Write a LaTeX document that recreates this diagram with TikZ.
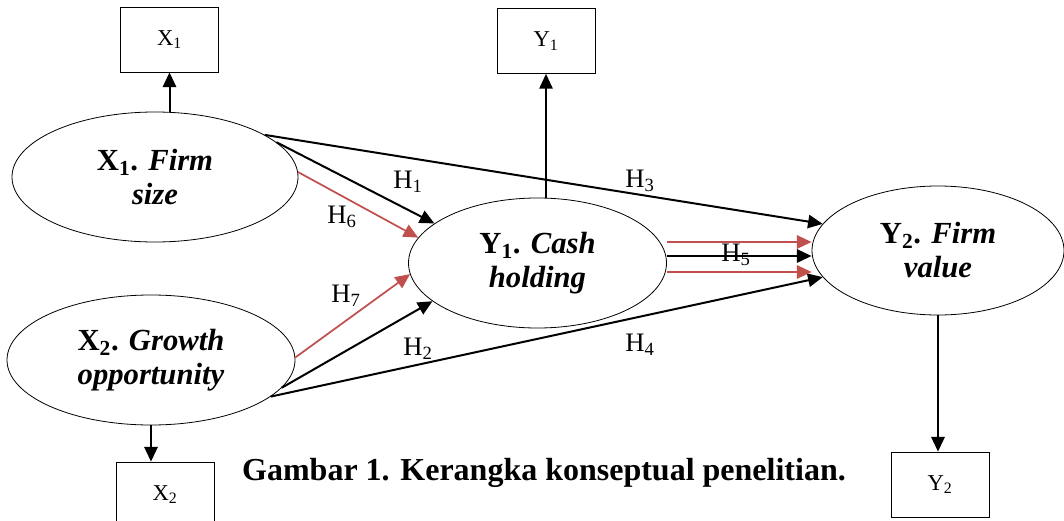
\documentclass[tikz,border=0pt]{standalone}
\usepackage{fontspec}
\setmainfont{Liberation Serif}[BoldItalicFont={Liberation Serif Bold Italic}]
\usetikzlibrary{shapes.geometric, arrows.meta}
\definecolor{hipred}{RGB}{192,80,77}

\begin{document}
\begin{tikzpicture}[
          x=0.75pt, y=-0.75pt,
          latent/.style={draw, ellipse, inner sep=0pt, align=center, line width=0.6pt,
                         font=\fontsize{23}{25.5}\selectfont\bfseries,
                         execute at begin node=\rule{0pt}{21pt}},
          indicator/.style={draw, rectangle, minimum width=73.5pt, minimum height=48.75pt,
                            inner sep=0pt, line width=0.6pt, font=\fontsize{17}{19}\selectfont},
          hlabel/.style={inner sep=0pt, font=\fontsize{20}{22}\selectfont},
          redpath/.style={draw=hipred, line width=1.3pt},
          >={Triangle[length=11pt, width=10pt]},
          line width=1.5pt
        ]
          \useasboundingbox (0,0) rectangle (1064,521);

          % 変数（楕円）
          \node[latent, minimum width=214.5pt, minimum height=97.5pt] (x1) at (155,177) {X\textsubscript{1}. \textit{Firm}\\\textit{size}};
          \node[latent, minimum width=216pt, minimum height=97.5pt] (x2) at (151,360) {X\textsubscript{2}. \textit{Growth}\\\textit{opportunity}};
          \node[latent, minimum width=193.5pt, minimum height=97.5pt] (y1) at (537.5,263) {Y\textsubscript{1}. \textit{Cash}\\\textit{holding}};
          \node[latent, minimum width=189pt, minimum height=96.75pt] (y2) at (938,250.5) {Y\textsubscript{2}. \textit{Firm}\\\textit{value}};

          % 指標（四角）
          \node[indicator] (x1box) at (169.5,39.5) {X\textsubscript{1}};
          \node[indicator] (y1box) at (546,41) {Y\textsubscript{1}};
          \node[indicator] (x2box) at (165,494.5) {X\textsubscript{2}};
          \node[indicator] (y2box) at (940,484.5) {Y\textsubscript{2}};

          % 変数から指標へ
          \draw[->] (x1box.south |- x1.north) -- (x1box);
          \draw[->, line width=1.1pt] (y1box.south |- y1.north) -- (y1box);
          \draw[->] (x2.south) -- (x2.south |- x2box.north);
          \draw[->] (y2.south) -- (y2.south |- y2box.north);

          % 仮説（黒）
          \draw[->] (x1.16.5) -- (y1.159.2);
          \draw[->] (x2.348.8) -- (y1.200.5);
          \draw[->] (x1.21.9) -- (y2.167.6);
          \draw[->] (x2.343.3) -- (y2.193.4);
          \draw[->] ([yshift=5.25pt]y1.east) -- ([yshift=5.25pt]y1.east -| y2.west);

          % 仮説（赤）
          \draw[->, redpath] (x1.2.4) -- (y1.168.2);
          \draw[->, redpath] (x2.1) -- (y1.185.7);
          \draw[->, redpath] ([yshift=15.75pt]y1.east) -- ([yshift=15.75pt]y1.east -| y2.west);
          \draw[->, redpath] ([yshift=-6.75pt]y1.east) -- ([yshift=-6.75pt]y1.east -| y2.west);

          % ラベル
          \node[hlabel] (h1) at (408,182) {H\textsubscript{1}};
          \node[hlabel] (h2) at (418,349) {H\textsubscript{2}};
          \node[hlabel] (h3) at (640,181) {H\textsubscript{3}};
          \node[hlabel] (h4) at (640,345) {H\textsubscript{4}};
          \node[hlabel] (h5) at (736,255) {H\textsubscript{5}};
          \node[hlabel] (h6) at (342,217) {H\textsubscript{6}};
          \node[hlabel] (h7) at (346,296) {H\textsubscript{7}};

          \node[anchor=base, font=\fontsize{24}{28}\selectfont\bfseries] (caption) at (544,480) {Gambar 1. Kerangka konseptual penelitian.};
        \end{tikzpicture}
\end{document}
